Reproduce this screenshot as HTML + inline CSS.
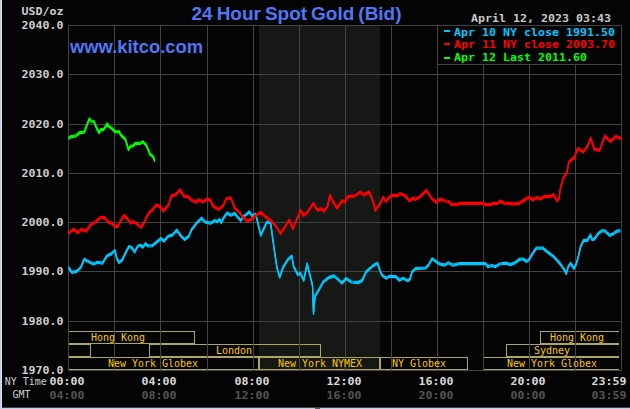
<!DOCTYPE html>
<html><head><meta charset="utf-8"><title>24 Hour Spot Gold (Bid)</title>
<style>
html,body{margin:0;padding:0;background:#050405;}
svg{display:block}
.m{font-family:"DejaVu Sans Mono","Liberation Mono",monospace;}
.a{font-family:"Liberation Sans",Arial,sans-serif;font-weight:bold;}
</style></head><body>
<svg width="630" height="409" viewBox="0 0 630 409">
<rect x="0" y="0" width="630" height="409" fill="#050405"/>
<rect x="0" y="0" width="1" height="409" fill="#c6d0e4"/><rect x="1" y="0" width="1" height="409" fill="#d6e0f2"/>
<rect x="0" y="407" width="630" height="1" fill="#c4cee6" opacity="0.3"/><rect x="0" y="408" width="630" height="1" fill="#c4cee6"/><rect x="315" y="408" width="5" height="1" fill="#555555"/>
<rect x="259" y="25" width="121" height="345" fill="#151815"/>

<g fill="#aca660" shape-rendering="crispEdges">
<rect x="69" y="331" width="126" height="1"/><rect x="69" y="343" width="126" height="1"/><rect x="194" y="331" width="1" height="13"/>
<rect x="69" y="344" width="22" height="1"/><rect x="69" y="356" width="22" height="1"/><rect x="90" y="344" width="1" height="13"/>
<rect x="149" y="344" width="172" height="1"/><rect x="149" y="356" width="172" height="1"/><rect x="149" y="344" width="1" height="13"/><rect x="320" y="344" width="1" height="13"/>
<rect x="69" y="357" width="190" height="1"/><rect x="69" y="369" width="190" height="1"/><rect x="258" y="357" width="1" height="13"/>
<rect x="259" y="357" width="121" height="1"/><rect x="259" y="369" width="121" height="1"/><rect x="259" y="357" width="1" height="13"/><rect x="379" y="357" width="1" height="13"/>
<rect x="380" y="357" width="88" height="1"/><rect x="380" y="369" width="88" height="1"/><rect x="380" y="357" width="1" height="13"/><rect x="467" y="357" width="1" height="13"/>
<rect x="483" y="357" width="136" height="1"/><rect x="483" y="369" width="136" height="1"/><rect x="483" y="357" width="1" height="13"/>
<rect x="506" y="344" width="113" height="1"/><rect x="506" y="356" width="113" height="1"/><rect x="506" y="344" width="1" height="13"/>
<rect x="540" y="331" width="79" height="1"/><rect x="540" y="343" width="79" height="1"/><rect x="540" y="331" width="1" height="13"/>
</g>
<g fill="#444444" shape-rendering="crispEdges">
<rect x="68" y="25" width="1" height="346"/>
<rect x="114" y="25" width="1" height="346"/>
<rect x="160" y="25" width="1" height="346"/>
<rect x="207" y="25" width="1" height="346"/>
<rect x="253" y="25" width="1" height="346"/>
<rect x="299" y="25" width="1" height="346"/>
<rect x="345" y="25" width="1" height="346"/>
<rect x="391" y="25" width="1" height="346"/>
<rect x="437" y="25" width="1" height="346"/>
<rect x="483" y="25" width="1" height="346"/>
<rect x="529" y="25" width="1" height="346"/>
<rect x="575" y="25" width="1" height="346"/>
<rect x="621" y="25" width="1" height="346"/>
<rect x="68" y="25" width="554" height="1"/>
<rect x="68" y="74" width="554" height="1"/>
<rect x="68" y="124" width="554" height="1"/>
<rect x="68" y="173" width="554" height="1"/>
<rect x="68" y="222" width="554" height="1"/>
<rect x="68" y="271" width="554" height="1"/>
<rect x="68" y="321" width="554" height="1"/>
<rect x="68" y="370" width="554" height="1"/>
</g>
<rect x="437.5" y="25.5" width="184" height="39" fill="#050405" stroke="#444444" stroke-width="1"/>
<polyline points="68.8,266.9 71.9,271.4 76.7,270.4 80.7,266.6 84.3,258.2 87.8,260.2 93.4,263.0 97.4,261.4 102.5,262.2 106.9,255.0 111.7,252.6 114.9,249.4 116.8,257.4 118.9,261.4 122.0,259.3 125.2,252.6 128.9,245.5 131.6,246.3 134.7,251.0 137.9,245.0 141.1,244.3 142.7,246.3 145.4,242.8 148.3,245.0 152.2,244.7 156.2,241.5 161.0,237.5 164.0,240.2 168.0,235.4 172.7,233.8 176.7,229.1 180.7,234.6 184.6,238.6 188.6,235.4 191.8,228.3 197.4,221.1 201.7,217.2 205.3,221.1 210.6,222.2 214.9,219.5 217.2,220.7 219.6,218.4 221.2,221.6 224.4,215.6 227.1,212.1 230.7,214.3 234.7,212.4 237.9,216.4 240.8,219.5 243.5,215.6 246.6,213.2 249.3,210.8 252.2,214.8 255.4,213.2 256.5,216.0 260.8,234.3 266.9,221.0 270.6,222.0 274.3,249.0 277.0,266.8 279.7,276.2 282.9,266.8 287.7,258.7 291.8,255.2 293.6,265.5 297.7,273.5 300.4,272.2 303.8,279.4 307.1,262.8 309.8,273.5 312.5,284.3 313.5,312.5 315.1,295.0 319.2,288.3 323.2,281.0 328.6,276.7 334.0,274.9 338.0,278.4 342.0,282.1 346.0,277.5 351.4,281.0 358.2,281.6 362.2,279.4 366.2,270.8 372.9,264.9 377.5,262.2 381.0,272.2 382.4,274.5 386.4,277.2 389.5,275.3 395.9,275.7 399.4,279.3 403.1,277.2 407.8,279.8 410.2,277.7 411.8,271.4 415.8,267.4 425.3,267.1 428.5,264.2 432.1,257.8 435.6,260.2 439.6,262.9 444.4,264.2 448.4,261.8 453.1,264.2 459.5,262.6 485.5,262.5 487.9,265.7 491.9,264.5 495.1,265.7 499.8,263.0 506.2,262.2 510.2,263.7 515.0,261.8 519.7,258.2 523.7,258.2 526.6,260.6 529.3,258.2 532.4,252.9 536.4,247.1 542.8,247.1 547.5,251.0 553.9,255.8 560.3,263.0 564.2,268.5 566.3,272.6 568.3,265.3 570.7,262.4 573.8,267.5 576.2,263.3 578.6,254.5 580.5,245.8 583.7,239.4 587.4,239.4 590.5,233.9 592.1,238.6 594.5,237.8 598.5,232.3 601.7,229.9 604.9,229.9 609.6,234.3 612.8,233.1 616.8,230.2 620.0,229.9" fill="none" stroke="#00c8ff" stroke-width="1.25" stroke-linejoin="round" stroke-linecap="round"/><polyline points="68.8,267.9 71.9,272.4 76.7,271.4 80.7,267.6 84.3,259.2 87.8,261.2 93.4,264.0 97.4,262.4 102.5,263.2 106.9,256.0 111.7,253.6 114.9,250.4 116.8,258.4 118.9,262.4 122.0,260.3 125.2,253.6 128.9,246.5 131.6,247.3 134.7,252.0 137.9,246.0 141.1,245.3 142.7,247.3 145.4,243.8 148.3,246.0 152.2,245.7 156.2,242.5 161.0,238.5 164.0,241.2 168.0,236.4 172.7,234.8 176.7,230.1 180.7,235.6 184.6,239.6 188.6,236.4 191.8,229.3 197.4,222.1 201.7,218.2 205.3,222.1 210.6,223.2 214.9,220.5 217.2,221.7 219.6,219.4 221.2,222.6 224.4,216.6 227.1,213.1 230.7,215.3 234.7,213.4 237.9,217.4 240.8,220.5 243.5,216.6 246.6,214.2 249.3,211.8 252.2,215.8 255.4,214.2 256.5,217.0 260.8,235.3 266.9,222.0 270.6,223.0 274.3,250.0 277.0,267.8 279.7,277.2 282.9,267.8 287.7,259.7 291.8,256.2 293.6,266.5 297.7,274.5 300.4,273.2 303.8,280.4 307.1,263.8 309.8,274.5 312.5,285.3 313.5,313.5 315.1,296.0 319.2,289.3 323.2,282.0 328.6,277.7 334.0,275.9 338.0,279.4 342.0,283.1 346.0,278.5 351.4,282.0 358.2,282.6 362.2,280.4 366.2,271.8 372.9,265.9 377.5,263.2 381.0,273.2 382.4,275.5 386.4,278.2 389.5,276.3 395.9,276.7 399.4,280.3 403.1,278.2 407.8,280.8 410.2,278.7 411.8,272.4 415.8,268.4 425.3,268.1 428.5,265.2 432.1,258.8 435.6,261.2 439.6,263.9 444.4,265.2 448.4,262.8 453.1,265.2 459.5,263.6 485.5,263.5 487.9,266.7 491.9,265.5 495.1,266.7 499.8,264.0 506.2,263.2 510.2,264.7 515.0,262.8 519.7,259.2 523.7,259.2 526.6,261.6 529.3,259.2 532.4,253.9 536.4,248.1 542.8,248.1 547.5,252.0 553.9,256.8 560.3,264.0 564.2,269.5 566.3,273.6 568.3,266.3 570.7,263.4 573.8,268.5 576.2,264.3 578.6,255.5 580.5,246.8 583.7,240.4 587.4,240.4 590.5,234.9 592.1,239.6 594.5,238.8 598.5,233.3 601.7,230.9 604.9,230.9 609.6,235.3 612.8,234.1 616.8,231.2 620.0,230.9" fill="none" stroke="#00c8ff" stroke-width="1.25" stroke-linejoin="round" stroke-linecap="round"/><polyline points="68.8,268.9 71.9,273.4 76.7,272.4 80.7,268.6 84.3,260.2 87.8,262.2 93.4,265.0 97.4,263.4 102.5,264.2 106.9,257.0 111.7,254.6 114.9,251.4 116.8,259.4 118.9,263.4 122.0,261.3 125.2,254.6 128.9,247.5 131.6,248.3 134.7,253.0 137.9,247.0 141.1,246.3 142.7,248.3 145.4,244.8 148.3,247.0 152.2,246.7 156.2,243.5 161.0,239.5 164.0,242.2 168.0,237.4 172.7,235.8 176.7,231.1 180.7,236.6 184.6,240.6 188.6,237.4 191.8,230.3 197.4,223.1 201.7,219.2 205.3,223.1 210.6,224.2 214.9,221.5 217.2,222.7 219.6,220.4 221.2,223.6 224.4,217.6 227.1,214.1 230.7,216.3 234.7,214.4 237.9,218.4 240.8,221.5 243.5,217.6 246.6,215.2 249.3,212.8 252.2,216.8 255.4,215.2 256.5,218.0 260.8,236.3 266.9,223.0 270.6,224.0 274.3,251.0 277.0,268.8 279.7,278.2 282.9,268.8 287.7,260.7 291.8,257.2 293.6,267.5 297.7,275.5 300.4,274.2 303.8,281.4 307.1,264.8 309.8,275.5 312.5,286.3 313.5,314.5 315.1,297.0 319.2,290.3 323.2,283.0 328.6,278.7 334.0,276.9 338.0,280.4 342.0,284.1 346.0,279.5 351.4,283.0 358.2,283.6 362.2,281.4 366.2,272.8 372.9,266.9 377.5,264.2 381.0,274.2 382.4,276.5 386.4,279.2 389.5,277.3 395.9,277.7 399.4,281.3 403.1,279.2 407.8,281.8 410.2,279.7 411.8,273.4 415.8,269.4 425.3,269.1 428.5,266.2 432.1,259.8 435.6,262.2 439.6,264.9 444.4,266.2 448.4,263.8 453.1,266.2 459.5,264.6 485.5,264.5 487.9,267.7 491.9,266.5 495.1,267.7 499.8,265.0 506.2,264.2 510.2,265.7 515.0,263.8 519.7,260.2 523.7,260.2 526.6,262.6 529.3,260.2 532.4,254.9 536.4,249.1 542.8,249.1 547.5,253.0 553.9,257.8 560.3,265.0 564.2,270.5 566.3,274.6 568.3,267.3 570.7,264.4 573.8,269.5 576.2,265.3 578.6,256.5 580.5,247.8 583.7,241.4 587.4,241.4 590.5,235.9 592.1,240.6 594.5,239.8 598.5,234.3 601.7,231.9 604.9,231.9 609.6,236.3 612.8,235.1 616.8,232.2 620.0,231.9" fill="none" stroke="#00c8ff" stroke-width="1.25" stroke-linejoin="round" stroke-linecap="round"/>
<polyline points="68.8,232.3 73.5,228.3 78.0,231.8 81.2,228.3 86.3,230.2 90.2,224.3 95.8,220.7 100.2,216.8 104.5,216.4 108.2,221.1 111.7,222.2 115.7,225.9 118.1,225.1 121.2,218.7 124.1,214.3 127.6,218.0 130.8,222.2 132.7,220.7 136.3,222.2 141.1,226.4 143.5,222.7 146.7,215.9 149.1,211.6 152.2,209.2 156.2,204.1 159.4,205.2 163.5,210.0 168.7,203.6 171.4,194.9 175.9,193.6 179.9,188.9 183.8,194.9 188.6,196.2 191.8,199.3 196.2,201.3 198.2,198.9 203.7,200.9 206.9,198.1 210.1,198.9 213.3,205.2 218.5,208.4 222.8,205.2 226.8,197.3 230.7,196.8 234.7,206.8 239.5,211.6 243.5,216.8 247.1,220.0 252.2,217.9 255.4,214.8 260.8,211.3 265.5,215.8 271.1,219.8 276.7,226.1 280.6,232.5 285.4,225.3 289.1,219.0 292.9,227.7 296.5,219.0 300.5,209.4 303.7,214.5 307.7,211.0 313.2,202.3 317.7,209.4 321.2,207.5 324.0,210.2 327.5,205.5 329.9,194.3 333.1,200.7 337.1,207.1 341.9,199.9 345.0,200.7 348.2,195.1 350.0,195.7 354.8,194.9 360.3,190.9 363.5,194.1 369.1,190.9 372.3,198.1 375.4,209.5 379.4,203.6 383.4,196.2 385.8,200.5 391.7,194.1 397.7,194.6 400.1,192.5 404.8,194.6 409.6,199.7 412.8,197.3 415.2,198.4 420.0,195.7 426.6,189.3 431.4,197.3 436.6,201.6 439.8,198.1 445.4,200.0 448.9,200.5 451.6,203.7 457.9,203.2 459.5,202.4 483.4,202.4 485.0,203.5 491.3,203.5 492.9,202.4 497.7,202.4 500.4,200.0 504.0,202.1 509.6,202.4 512.0,203.2 519.1,202.4 524.7,198.9 528.7,196.3 533.1,198.9 536.6,196.3 540.3,198.0 544.3,195.4 550.7,195.4 553.8,193.5 557.0,199.9 558.9,197.5 560.5,187.2 563.4,176.8 566.6,172.1 569.0,160.9 571.7,158.5 574.2,156.9 577.7,147.5 583.3,151.0 588.0,144.3 590.7,137.0 594.4,148.2 599.6,149.4 605.0,134.8 610.3,140.7 615.9,135.4 620.9,137.5" fill="none" stroke="#ff0000" stroke-width="1.25" stroke-linejoin="round" stroke-linecap="round"/><polyline points="68.8,233.3 73.5,229.3 78.0,232.8 81.2,229.3 86.3,231.2 90.2,225.3 95.8,221.7 100.2,217.8 104.5,217.4 108.2,222.1 111.7,223.2 115.7,226.9 118.1,226.1 121.2,219.7 124.1,215.3 127.6,219.0 130.8,223.2 132.7,221.7 136.3,223.2 141.1,227.4 143.5,223.7 146.7,216.9 149.1,212.6 152.2,210.2 156.2,205.1 159.4,206.2 163.5,211.0 168.7,204.6 171.4,195.9 175.9,194.6 179.9,189.9 183.8,195.9 188.6,197.2 191.8,200.3 196.2,202.3 198.2,199.9 203.7,201.9 206.9,199.1 210.1,199.9 213.3,206.2 218.5,209.4 222.8,206.2 226.8,198.3 230.7,197.8 234.7,207.8 239.5,212.6 243.5,217.8 247.1,221.0 252.2,218.9 255.4,215.8 260.8,212.3 265.5,216.8 271.1,220.8 276.7,227.1 280.6,233.5 285.4,226.3 289.1,220.0 292.9,228.7 296.5,220.0 300.5,210.4 303.7,215.5 307.7,212.0 313.2,203.3 317.7,210.4 321.2,208.5 324.0,211.2 327.5,206.5 329.9,195.3 333.1,201.7 337.1,208.1 341.9,200.9 345.0,201.7 348.2,196.1 350.0,196.7 354.8,195.9 360.3,191.9 363.5,195.1 369.1,191.9 372.3,199.1 375.4,210.5 379.4,204.6 383.4,197.2 385.8,201.5 391.7,195.1 397.7,195.6 400.1,193.5 404.8,195.6 409.6,200.7 412.8,198.3 415.2,199.4 420.0,196.7 426.6,190.3 431.4,198.3 436.6,202.6 439.8,199.1 445.4,201.0 448.9,201.5 451.6,204.7 457.9,204.2 459.5,203.4 483.4,203.4 485.0,204.5 491.3,204.5 492.9,203.4 497.7,203.4 500.4,201.0 504.0,203.1 509.6,203.4 512.0,204.2 519.1,203.4 524.7,199.9 528.7,197.3 533.1,199.9 536.6,197.3 540.3,199.0 544.3,196.4 550.7,196.4 553.8,194.5 557.0,200.9 558.9,198.5 560.5,188.2 563.4,177.8 566.6,173.1 569.0,161.9 571.7,159.5 574.2,157.9 577.7,148.5 583.3,152.0 588.0,145.3 590.7,138.0 594.4,149.2 599.6,150.4 605.0,135.8 610.3,141.7 615.9,136.4 620.9,138.5" fill="none" stroke="#ff0000" stroke-width="1.25" stroke-linejoin="round" stroke-linecap="round"/><polyline points="68.8,234.3 73.5,230.3 78.0,233.8 81.2,230.3 86.3,232.2 90.2,226.3 95.8,222.7 100.2,218.8 104.5,218.4 108.2,223.1 111.7,224.2 115.7,227.9 118.1,227.1 121.2,220.7 124.1,216.3 127.6,220.0 130.8,224.2 132.7,222.7 136.3,224.2 141.1,228.4 143.5,224.7 146.7,217.9 149.1,213.6 152.2,211.2 156.2,206.1 159.4,207.2 163.5,212.0 168.7,205.6 171.4,196.9 175.9,195.6 179.9,190.9 183.8,196.9 188.6,198.2 191.8,201.3 196.2,203.3 198.2,200.9 203.7,202.9 206.9,200.1 210.1,200.9 213.3,207.2 218.5,210.4 222.8,207.2 226.8,199.3 230.7,198.8 234.7,208.8 239.5,213.6 243.5,218.8 247.1,222.0 252.2,219.9 255.4,216.8 260.8,213.3 265.5,217.8 271.1,221.8 276.7,228.1 280.6,234.5 285.4,227.3 289.1,221.0 292.9,229.7 296.5,221.0 300.5,211.4 303.7,216.5 307.7,213.0 313.2,204.3 317.7,211.4 321.2,209.5 324.0,212.2 327.5,207.5 329.9,196.3 333.1,202.7 337.1,209.1 341.9,201.9 345.0,202.7 348.2,197.1 350.0,197.7 354.8,196.9 360.3,192.9 363.5,196.1 369.1,192.9 372.3,200.1 375.4,211.5 379.4,205.6 383.4,198.2 385.8,202.5 391.7,196.1 397.7,196.6 400.1,194.5 404.8,196.6 409.6,201.7 412.8,199.3 415.2,200.4 420.0,197.7 426.6,191.3 431.4,199.3 436.6,203.6 439.8,200.1 445.4,202.0 448.9,202.5 451.6,205.7 457.9,205.2 459.5,204.4 483.4,204.4 485.0,205.5 491.3,205.5 492.9,204.4 497.7,204.4 500.4,202.0 504.0,204.1 509.6,204.4 512.0,205.2 519.1,204.4 524.7,200.9 528.7,198.3 533.1,200.9 536.6,198.3 540.3,200.0 544.3,197.4 550.7,197.4 553.8,195.5 557.0,201.9 558.9,199.5 560.5,189.2 563.4,178.8 566.6,174.1 569.0,162.9 571.7,160.5 574.2,158.9 577.7,149.5 583.3,153.0 588.0,146.3 590.7,139.0 594.4,150.2 599.6,151.4 605.0,136.8 610.3,142.7 615.9,137.4 620.9,139.5" fill="none" stroke="#ff0000" stroke-width="1.25" stroke-linejoin="round" stroke-linecap="round"/>
<polyline points="68.8,137.2 71.2,135.6 75.9,134.8 79.9,131.6 84.2,131.2 87.1,123.7 89.4,117.8 91.0,120.0 93.9,120.5 96.6,126.9 99.0,131.6 100.9,128.5 103.7,128.5 107.2,122.9 109.3,125.8 111.7,127.3 115.2,130.8 118.9,130.5 121.6,134.8 125.2,138.0 126.8,142.8 128.4,148.7 130.5,145.2 132.7,145.2 135.5,142.3 140.3,142.3 143.0,140.9 145.9,143.6 147.8,147.5 149.9,153.1 153.0,155.5 154.6,159.5" fill="none" stroke="#00ff00" stroke-width="1.25" stroke-linejoin="round" stroke-linecap="round"/><polyline points="68.8,138.2 71.2,136.6 75.9,135.8 79.9,132.6 84.2,132.2 87.1,124.7 89.4,118.8 91.0,121.0 93.9,121.5 96.6,127.9 99.0,132.6 100.9,129.5 103.7,129.5 107.2,123.9 109.3,126.8 111.7,128.3 115.2,131.8 118.9,131.5 121.6,135.8 125.2,139.0 126.8,143.8 128.4,149.7 130.5,146.2 132.7,146.2 135.5,143.3 140.3,143.3 143.0,141.9 145.9,144.6 147.8,148.5 149.9,154.1 153.0,156.5 154.6,160.5" fill="none" stroke="#00ff00" stroke-width="1.25" stroke-linejoin="round" stroke-linecap="round"/><polyline points="68.8,139.2 71.2,137.6 75.9,136.8 79.9,133.6 84.2,133.2 87.1,125.7 89.4,119.8 91.0,122.0 93.9,122.5 96.6,128.9 99.0,133.6 100.9,130.5 103.7,130.5 107.2,124.9 109.3,127.8 111.7,129.3 115.2,132.8 118.9,132.5 121.6,136.8 125.2,140.0 126.8,144.8 128.4,150.7 130.5,147.2 132.7,147.2 135.5,144.3 140.3,144.3 143.0,142.9 145.9,145.6 147.8,149.5 149.9,155.1 153.0,157.5 154.6,161.5" fill="none" stroke="#00ff00" stroke-width="1.25" stroke-linejoin="round" stroke-linecap="round"/>
<text class="a" x="191.5" y="19.5" font-size="19" fill="#5077f7" textLength="210" word-spacing="-1.2" lengthAdjust="spacingAndGlyphs">24 Hour Spot Gold (Bid)</text>
<text class="a" x="70" y="52.8" font-size="19" fill="#5077f7" textLength="133" lengthAdjust="spacingAndGlyphs">www.kitco.com</text>
<text class="m" x="21.5" y="15" font-size="11" font-weight="bold" fill="#cecece" textLength="42" lengthAdjust="spacingAndGlyphs" xml:space="preserve">USD/oz</text>
<text class="m" x="21.5" y="29.2" font-size="11" font-weight="bold" fill="#cecece" textLength="42" lengthAdjust="spacingAndGlyphs" xml:space="preserve">2040.0</text>
<text class="m" x="21.5" y="78.2" font-size="11" font-weight="bold" fill="#cecece" textLength="42" lengthAdjust="spacingAndGlyphs" xml:space="preserve">2030.0</text>
<text class="m" x="21.5" y="128.2" font-size="11" font-weight="bold" fill="#cecece" textLength="42" lengthAdjust="spacingAndGlyphs" xml:space="preserve">2020.0</text>
<text class="m" x="21.5" y="177.2" font-size="11" font-weight="bold" fill="#cecece" textLength="42" lengthAdjust="spacingAndGlyphs" xml:space="preserve">2010.0</text>
<text class="m" x="21.5" y="226.2" font-size="11" font-weight="bold" fill="#cecece" textLength="42" lengthAdjust="spacingAndGlyphs" xml:space="preserve">2000.0</text>
<text class="m" x="21.5" y="275.2" font-size="11" font-weight="bold" fill="#cecece" textLength="42" lengthAdjust="spacingAndGlyphs" xml:space="preserve">1990.0</text>
<text class="m" x="21.5" y="325.2" font-size="11" font-weight="bold" fill="#cecece" textLength="42" lengthAdjust="spacingAndGlyphs" xml:space="preserve">1980.0</text>
<text class="m" x="21.5" y="374.2" font-size="11" font-weight="bold" fill="#cecece" textLength="42" lengthAdjust="spacingAndGlyphs" xml:space="preserve">1970.0</text>
<text class="m" x="471" y="22" font-size="11" font-weight="bold" fill="#c8c8c8" textLength="140" lengthAdjust="spacingAndGlyphs" xml:space="preserve">April 12, 2023 03:43</text>
<rect x="444" y="30" width="6" height="2" fill="#00c8ff"/>
<text class="m" x="454" y="36" font-size="11" font-weight="bold" fill="#00c8ff" textLength="161" lengthAdjust="spacingAndGlyphs" xml:space="preserve">Apr 10 NY close 1991.50</text>
<rect x="444" y="43" width="6" height="2" fill="#ff0000"/>
<text class="m" x="454" y="48" font-size="11" font-weight="bold" fill="#ff0000" textLength="161" lengthAdjust="spacingAndGlyphs" xml:space="preserve">Apr 11 NY close 2003.70</text>
<rect x="444" y="57" width="6" height="2" fill="#00ff00"/>
<text class="m" x="454" y="61" font-size="11" font-weight="bold" fill="#00ff00" textLength="133" lengthAdjust="spacingAndGlyphs" xml:space="preserve">Apr 12 Last 2011.60</text>
<text class="m" x="4.7" y="385.2" font-size="11.2" font-weight="normal" fill="#cecece" textLength="42" lengthAdjust="spacingAndGlyphs" xml:space="preserve">NY Time</text>
<text class="m" x="12.5" y="397.7" font-size="11.2" font-weight="normal" fill="#cecece" textLength="18" lengthAdjust="spacingAndGlyphs" xml:space="preserve">GMT</text>
<text class="m" x="49.5" y="385" font-size="11" font-weight="bold" fill="#d8d8d8" textLength="35" lengthAdjust="spacingAndGlyphs" xml:space="preserve">00:00</text>
<text class="m" x="49.5" y="399" font-size="11" font-weight="bold" fill="#545454" textLength="35" lengthAdjust="spacingAndGlyphs" xml:space="preserve">04:00</text>
<text class="m" x="141.5" y="385" font-size="11" font-weight="bold" fill="#d8d8d8" textLength="35" lengthAdjust="spacingAndGlyphs" xml:space="preserve">04:00</text>
<text class="m" x="141.5" y="399" font-size="11" font-weight="bold" fill="#545454" textLength="35" lengthAdjust="spacingAndGlyphs" xml:space="preserve">08:00</text>
<text class="m" x="234.5" y="385" font-size="11" font-weight="bold" fill="#d8d8d8" textLength="35" lengthAdjust="spacingAndGlyphs" xml:space="preserve">08:00</text>
<text class="m" x="234.5" y="399" font-size="11" font-weight="bold" fill="#545454" textLength="35" lengthAdjust="spacingAndGlyphs" xml:space="preserve">12:00</text>
<text class="m" x="326.5" y="385" font-size="11" font-weight="bold" fill="#d8d8d8" textLength="35" lengthAdjust="spacingAndGlyphs" xml:space="preserve">12:00</text>
<text class="m" x="326.5" y="399" font-size="11" font-weight="bold" fill="#545454" textLength="35" lengthAdjust="spacingAndGlyphs" xml:space="preserve">16:00</text>
<text class="m" x="418.5" y="385" font-size="11" font-weight="bold" fill="#d8d8d8" textLength="35" lengthAdjust="spacingAndGlyphs" xml:space="preserve">16:00</text>
<text class="m" x="418.5" y="399" font-size="11" font-weight="bold" fill="#545454" textLength="35" lengthAdjust="spacingAndGlyphs" xml:space="preserve">20:00</text>
<text class="m" x="510.5" y="385" font-size="11" font-weight="bold" fill="#d8d8d8" textLength="35" lengthAdjust="spacingAndGlyphs" xml:space="preserve">20:00</text>
<text class="m" x="510.5" y="399" font-size="11" font-weight="bold" fill="#545454" textLength="35" lengthAdjust="spacingAndGlyphs" xml:space="preserve">00:00</text>
<text class="m" x="591.5" y="385" font-size="11" font-weight="bold" fill="#d8d8d8" textLength="35" lengthAdjust="spacingAndGlyphs" xml:space="preserve">23:59</text>
<text class="m" x="591.5" y="399" font-size="11" font-weight="bold" fill="#545454" textLength="35" lengthAdjust="spacingAndGlyphs" xml:space="preserve">03:59</text>
<text class="m" x="91" y="341" font-size="11.2" font-weight="normal" fill="#fcc800" textLength="54" lengthAdjust="spacingAndGlyphs" xml:space="preserve">Hong Kong</text>
<text class="m" x="216" y="354" font-size="11.2" font-weight="normal" fill="#fcc800" textLength="36" lengthAdjust="spacingAndGlyphs" xml:space="preserve">London</text>
<text class="m" x="108" y="367" font-size="11.2" font-weight="normal" fill="#fcc800" textLength="90" lengthAdjust="spacingAndGlyphs" xml:space="preserve">New York Globex</text>
<text class="m" x="278" y="367" font-size="11.2" font-weight="normal" fill="#fcc800" textLength="84" lengthAdjust="spacingAndGlyphs" xml:space="preserve">New York NYMEX</text>
<text class="m" x="392" y="367" font-size="11.2" font-weight="normal" fill="#fcc800" textLength="54" lengthAdjust="spacingAndGlyphs" xml:space="preserve">NY Globex</text>
<text class="m" x="507" y="367" font-size="11.2" font-weight="normal" fill="#fcc800" textLength="90" lengthAdjust="spacingAndGlyphs" xml:space="preserve">New York Globex</text>
<text class="m" x="534" y="354" font-size="11.2" font-weight="normal" fill="#fcc800" textLength="36" lengthAdjust="spacingAndGlyphs" xml:space="preserve">Sydney</text>
<text class="m" x="550" y="341" font-size="11.2" font-weight="normal" fill="#fcc800" textLength="54" lengthAdjust="spacingAndGlyphs" xml:space="preserve">Hong Kong</text>
</svg></body></html>
